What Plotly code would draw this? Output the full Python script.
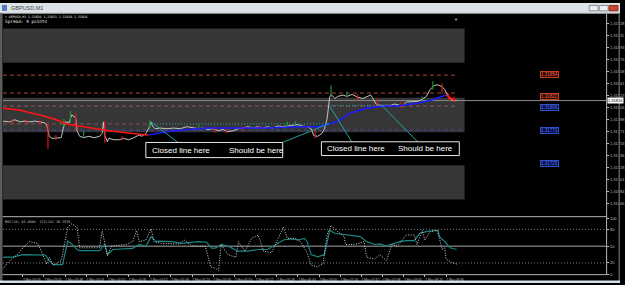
import plotly.graph_objects as go

W, H = 625, 285

# ---------------- data (time = bar minutes, values = prices) ----------------
price_min = [0, 5, 9, 13, 16, 20, 24, 28, 31, 33, 35, 37, 41, 44, 46, 47, 50, 52, 55, 56,
             58, 61, 65, 69, 73, 75, 76, 77, 79, 80, 84, 88, 91, 95, 99, 103, 105, 108, 110, 112,
             113, 115, 119, 124, 129, 134, 139, 144, 148, 151, 155, 159, 163, 166, 170, 174, 178, 181, 185, 189,
             193, 196, 200, 204, 208, 211, 215, 219, 223, 226, 230, 233, 235, 238, 241, 243, 245, 247, 248, 251,
             253, 257, 260, 264, 268, 272, 275, 278, 280, 282, 285, 289, 293, 296, 300, 302, 305, 308, 311, 314,
             317, 320, 323, 326, 329, 332, 334, 337, 340, 343]
price_close = [1.31786, 1.31785, 1.31788, 1.31785, 1.31786, 1.31785, 1.31786, 1.31785, 1.31784, 1.31781,
               1.31764, 1.31761, 1.31762, 1.31762, 1.31779, 1.31785, 1.31784, 1.31795, 1.31791, 1.31772,
               1.31764, 1.31762, 1.31764, 1.31762, 1.31764, 1.31768, 1.31785, 1.31765, 1.31756, 1.31761,
               1.31759, 1.31759, 1.31761, 1.31759, 1.31762, 1.31766, 1.31764, 1.31768, 1.31775, 1.31785,
               1.31779, 1.31775, 1.31776, 1.31775, 1.31776, 1.31775, 1.31778, 1.31776, 1.31775, 1.31776,
               1.31774, 1.31775, 1.31772, 1.31774, 1.31771, 1.31772, 1.31775, 1.31776, 1.31778, 1.31776,
               1.31778, 1.31776, 1.31778, 1.31776, 1.31779, 1.31778, 1.31779, 1.31781, 1.31781, 1.31779,
               1.31778, 1.31775, 1.31765, 1.31764, 1.31768, 1.31774, 1.31789, 1.31821, 1.31825, 1.31819,
               1.31822, 1.31824, 1.31822, 1.31825, 1.31821, 1.31819, 1.31822, 1.31824, 1.31818, 1.31811,
               1.31809, 1.31809, 1.31809, 1.31811, 1.31809, 1.31808, 1.31814, 1.31814, 1.31814, 1.31815,
               1.31818, 1.31822, 1.31832, 1.31838, 1.31839, 1.31836, 1.31832, 1.31821, 1.31816, 1.31816]

ma_fall_min = [0, 13, 30, 39, 48, 58, 73, 80, 98, 110]
ma_fall = [1.31805, 1.31802, 1.31794, 1.31789, 1.31782, 1.31779, 1.31775, 1.31772, 1.31768, 1.31766]
ma_rise_min = [110, 125, 140, 155, 178, 200, 223, 238, 245, 253, 263, 275, 288, 298, 313, 323, 335]
ma_rise = [1.31766, 1.31771, 1.31774, 1.31776, 1.31776, 1.31776, 1.31778, 1.31778, 1.31781, 1.31786,
           1.31798, 1.31805, 1.31808, 1.31808, 1.31812, 1.31816, 1.31824]
ma_tail_min = [335, 339, 342]
ma_tail = [1.31824, 1.31819, 1.31817]

red_wick_min = [7, 18, 28, 34, 40, 55, 77, 90, 160, 169, 181, 194, 236, 268, 283, 301, 332, 337, 341]
red_wick_lo = [1.31782, 1.31782, 1.31781, 1.31746, 1.31759, 1.31772, 1.31755, 1.31758, 1.31769, 1.31768,
               1.31772, 1.31774, 1.31761, 1.31816, 1.31808, 1.31805, 1.31826, 1.31815, 1.31814]
red_wick_hi = [1.31789, 1.31788, 1.31788, 1.31784, 1.31766, 1.31798, 1.31786, 1.31764, 1.31778, 1.31776,
               1.31779, 1.31779, 1.31775, 1.31825, 1.31819, 1.31814, 1.31841, 1.31826, 1.31822]
green_wick_min = [46, 51, 61, 111, 148, 215, 221, 248, 260, 317, 325]
green_wick_lo = [1.31778, 1.31784, 1.31762, 1.31775, 1.31774, 1.31778, 1.31778, 1.31821, 1.31821, 1.31815, 1.31832]
green_wick_hi = [1.31789, 1.31801, 1.31772, 1.31788, 1.31781, 1.31785, 1.31786, 1.31838, 1.31829, 1.31822, 1.31844]

rsi_min = [0, 8, 15, 23, 32, 35, 38, 45, 48, 49, 52, 56, 58, 73, 77, 79, 83, 98, 103, 108,
           112, 116, 118, 128, 135, 148, 154, 158, 161, 165, 170, 178, 185, 193, 200, 208, 212, 218, 223, 228,
           230, 233, 238, 243, 247, 251, 260, 266, 270, 275, 281, 285, 290, 296, 300, 305, 311, 315, 320, 326,
           329, 330, 334, 338, 343]
rsi_val = [30, 31, 35, 35, 34, 24, 17, 17, 53, 59, 54, 44, 42, 42, 53, 35, 44, 46, 53, 50,
           67, 58, 59, 58, 55, 58, 57, 46, 47, 53, 50, 41, 41, 44, 44, 55, 61, 63, 61, 64,
           58, 35, 31, 35, 78, 73, 70, 67, 67, 58, 53, 54, 50, 55, 58, 60, 60, 73, 76, 78,
           78, 67, 58, 47, 44]
stoch_min = [0, 5, 11, 15, 20, 26, 29, 33, 35, 38, 44, 47, 49, 52, 56, 58, 73, 75, 77, 79,
             82, 93, 98, 101, 103, 108, 112, 114, 120, 133, 137, 143, 153, 157, 161, 163, 165, 170, 176, 178,
             183, 188, 193, 197, 203, 208, 212, 215, 221, 225, 230, 233, 238, 242, 245, 248, 253, 258, 259, 266,
             273, 275, 281, 285, 290, 294, 298, 305, 311, 313, 317, 319, 323, 328, 330, 332, 334, 335, 339, 343]
stoch_val = [10, 24, 35, 47, 58, 55, 41, 18, 30, 16, 24, 64, 84, 90, 84, 47, 47, 77, 53, 33,
             50, 53, 58, 78, 58, 61, 81, 58, 55, 54, 61, 50, 50, 13, 10, 7, 53, 35, 30, 58,
             41, 64, 70, 41, 38, 64, 84, 64, 64, 58, 38, 16, 13, 19, 70, 87, 76, 67, 53, 53,
             58, 30, 27, 35, 24, 53, 50, 70, 70, 53, 78, 61, 76, 78, 64, 44, 47, 27, 21, 18]

zone_top = [1.31921, 1.31820, 1.31722]
zone_bottom = [1.31871, 1.31770, 1.31672]
zone_end_min = 349

level_prices = [1.31853, 1.31827, 1.31808, 1.31782, 1.31773]
level_end_min = [343, 343, 343, 110, 349]
level_colors = ["#a4463a", "#a4463a", "#8e5868", "#7c5060", "#46469a"]

tag_prices = [1.31854, 1.31822, 1.31806, 1.31773, 1.31725]
tag_kind = ["sell", "sell", "buy", "buy", "buy"]
bid_price = 1.31816

price_ticks = [1.31928, 1.31911, 1.31893, 1.31876, 1.31858, 1.31841, 1.31823, 1.31806,
               1.31788, 1.31771, 1.31753, 1.31736, 1.31718, 1.31701, 1.31684, 1.31666]
time_tick_min = [-1, 15, 31, 47, 63, 79, 95, 111, 127, 143, 159, 175, 191, 207, 223, 239,
                 255, 271, 287, 303, 319, 335]
time_tick_labels = ["7 Mar 2018", "7 Mar 03:16", "7 Mar 03:32", "7 Mar 03:48", "7 Mar 04:04",
                    "7 Mar 04:20", "7 Mar 04:36", "7 Mar 04:52", "7 Mar 05:08", "7 Mar 05:24",
                    "7 Mar 05:40", "7 Mar 05:56", "7 Mar 06:12", "7 Mar 06:28", "7 Mar 06:44",
                    "7 Mar 07:00", "7 Mar 07:16", "7 Mar 07:32", "7 Mar 07:48", "7 Mar 08:04",
                    "7 Mar 08:20", "7 Mar 08:36"]
osc_ticks = [100, 80, 50, 20, 0]
osc_levels = [80, 50, 20]

# trendline / callout objects drawn on the chart (time, price)
dotted_marks = [((112, 1.31782), (247, 1.31782)), ((248, 1.31809), (287, 1.31809))]
callouts = [((112, 1.31785), (133, 1.31754)), ((246, 1.31782), (210, 1.31754)),
            ((247, 1.31808), (264, 1.31755)), ((287, 1.31808), (314, 1.31755))]
note_boxes = [(108, 211.5, 1.31733, 1.31755), (240.75, 345, 1.31736, 1.31756)]
note_texts = [(111.5, 1.31744, "Closed line here"), (169.5, 1.31744, "Should be here"),
              (243.5, 1.31746, "Closed line here"), (297, 1.31746, "Should be here")]

# ---------------- layout helpers ----------------
X_RANGE = [0, 456]
Y_RANGE = [1.316477, 1.319423]


def px(x):
    return x / W


def py(y):
    return 1 - y / H


def segs(xs, lo, hi):
    ox, oy = [], []
    for a, b, c in zip(xs, lo, hi):
        ox += [a, a, None]
        oy += [b, c, None]
    return ox, oy


fig = go.Figure()

fig.add_trace(go.Scatter(x=price_min, y=price_close, mode="lines",
                         line=dict(color="#c4c4c4", width=1), xaxis="x", yaxis="y"))
rx, ry = segs(red_wick_min, red_wick_lo, red_wick_hi)
fig.add_trace(go.Scatter(x=rx, y=ry, mode="lines", line=dict(color="#e01818", width=1.2),
                         xaxis="x", yaxis="y"))
gx, gy = segs(green_wick_min, green_wick_lo, green_wick_hi)
fig.add_trace(go.Scatter(x=gx, y=gy, mode="lines", line=dict(color="#129a2e", width=1.2),
                         xaxis="x", yaxis="y"))
fig.add_trace(go.Scatter(x=ma_fall_min, y=ma_fall, mode="lines",
                         line=dict(color="#ff1414", width=1.6), xaxis="x", yaxis="y"))
fig.add_trace(go.Scatter(x=ma_rise_min, y=ma_rise, mode="lines",
                         line=dict(color="#1a1aff", width=1.6), xaxis="x", yaxis="y"))
fig.add_trace(go.Scatter(x=ma_tail_min, y=ma_tail, mode="lines",
                         line=dict(color="#ff1414", width=1.6), xaxis="x", yaxis="y"))

fig.add_trace(go.Scatter(x=rsi_min, y=rsi_val, mode="lines",
                         line=dict(color="#1b8585", width=1.2), xaxis="x2", yaxis="y2"))
fig.add_trace(go.Scatter(x=stoch_min, y=stoch_val, mode="lines",
                         line=dict(color="#d0d0d0", width=1, dash="1px,1.5px"),
                         xaxis="x2", yaxis="y2"))

shapes = []
for t, b in zip(zone_top, zone_bottom):
    shapes.append(dict(type="rect", xref="x", yref="y", x0=X_RANGE[0], x1=zone_end_min,
                       y0=b, y1=t, fillcolor="#363636", line_width=0, layer="below"))
for p, e, c in zip(level_prices, level_end_min, level_colors):
    shapes.append(dict(type="line", xref="x", yref="y", x0=X_RANGE[0], x1=e, y0=p, y1=p,
                       line=dict(color=c, width=1, dash="4px,3px"), layer="below"))
shapes.append(dict(type="line", xref="x", yref="y", x0=X_RANGE[0], x1=X_RANGE[1],
                   y0=bid_price, y1=bid_price, line=dict(color="#8a8a8a", width=1), layer="below"))
for lv in osc_levels:
    shapes.append(dict(type="line", xref="x2", yref="y2", x0=X_RANGE[0], x1=X_RANGE[1],
                       y0=lv, y1=lv,
                       line=dict(color="#a8a8a8" if lv == 50 else "#808080", width=1,
                                 dash="solid" if lv == 50 else "1px,2px"),
                       layer="below"))
for (a, b) in dotted_marks:
    shapes.append(dict(type="line", xref="x", yref="y", x0=a[0], y0=a[1], x1=b[0], y1=b[1],
                       line=dict(color="#22a8a8", width=1, dash="1px,2px")))
for (a, b) in callouts:
    shapes.append(dict(type="line", xref="x", yref="y", x0=a[0], y0=a[1], x1=b[0], y1=b[1],
                       line=dict(color="#22a0a0", width=1)))
for (x0, x1, y0, y1) in note_boxes:
    shapes.append(dict(type="rect", xref="x", yref="y", x0=x0, x1=x1, y0=y0, y1=y1,
                       fillcolor="#000000", line=dict(color="#e8e8e8", width=1)))


def prect(x0, y0, x1, y1, fill, line=None):
    d = dict(type="rect", xref="paper", yref="paper", x0=px(x0), x1=px(x1), y0=py(y1), y1=py(y0),
             fillcolor=fill, layer="above")
    d["line"] = dict(color=line, width=1) if line else dict(width=0)
    return d


def pline(x0, y0, x1, y1, color, width=1):
    return dict(type="line", xref="paper", yref="paper", x0=px(x0), x1=px(x1), y0=py(y0), y1=py(y1),
                line=dict(color=color, width=width), layer="above")


shapes += [
    prect(0, 0, 625, 10.5, "#dde2e8"),
    pline(0, 10.5, 625, 10.5, "#9aa0a6"),
    prect(2, 2, 7, 8, "#4a7cc0"),
    prect(594, 2.5, 603, 8, "#eceff2", "#8a8f96"),
    prect(604, 2.5, 613, 8, "#eceff2", "#8a8f96"),
    prect(614, 2.5, 623, 8, "#c9452f", "#8a3020"),
    prect(0, 10.5, 2.5, 283, "#5c5c5c"),
    prect(623.5, 10.5, 625, 283, "#5c5c5c"),
    prect(0, 282.5, 625, 285, "#d3dfe6"),
    pline(611.5, 11, 611.5, 276.5, "#b4b4b4"),
    pline(2.5, 217.5, 611.5, 217.5, "#b4b4b4"),
    pline(2.5, 276.5, 611.5, 276.5, "#b4b4b4"),
]

annotations = []
mono = "DejaVu Sans Mono"
annotations.append(dict(xref="paper", yref="paper", x=px(9.5), y=py(5.3), xanchor="left",
                        yanchor="middle", showarrow=False, text="GBPUSD,M1",
                        font=dict(family="Liberation Sans", size=5.5, color="#404040")))
annotations.append(dict(xref="paper", yref="paper", x=px(3), y=py(14), xanchor="left",
                        yanchor="middle", showarrow=False,
                        text="▾ GBPUSD,M1 1.31826 1.31831 1.31818 1.31816",
                        font=dict(family=mono, size=3.2, color="#e0e0e0")))
annotations.append(dict(xref="paper", yref="paper", x=px(3), y=py(19), xanchor="left",
                        yanchor="middle", showarrow=False, text="Spread: 9 points",
                        font=dict(family=mono, size=4.4, color="#e8e8e8")))
annotations.append(dict(xref="paper", yref="paper", x=px(3), y=py(222.5), xanchor="left",
                        yanchor="middle", showarrow=False,
                        text="RSI(14) 43.8888  CCI(14) 16.7535",
                        font=dict(family=mono, size=3.4, color="#c8c8c8")))
annotations.append(dict(xref="paper", yref="paper", x=px(464), y=py(12.5), showarrow=False,
                        text="▼", font=dict(size=4, color="#c0c0c0")))
for (x, y, t) in note_texts:
    annotations.append(dict(xref="x", yref="y", x=x, y=y, xanchor="left", yanchor="middle",
                            showarrow=False, text=t,
                            font=dict(family="Liberation Sans, Arial", size=8, color="#ffffff")))
for p, k in zip(tag_prices, tag_kind):
    red = k == "sell"
    annotations.append(dict(xref="paper", yref="y", x=px(564), y=p, xanchor="right",
                            yanchor="middle", showarrow=False, text=f"{p:.5f}",
                            font=dict(family="Liberation Sans", size=4.5,
                                      color="#f06040" if red else "#5070f0"),
                            bgcolor="#2a0a06" if red else "#0a1046",
                            bordercolor="#c8401e" if red else "#3050c8",
                            borderwidth=1, borderpad=0))
annotations.append(dict(xref="paper", yref="y", x=px(612), y=bid_price, xanchor="left",
                        yanchor="middle", showarrow=False, text=f"{bid_price:.5f}",
                        font=dict(family="Liberation Sans", size=4, color="#000000"),
                        bgcolor="#ffffff", borderpad=0))

axis_font = dict(family="Liberation Sans", size=4, color="#bdbdbd")
time_font = dict(family="Liberation Sans", size=3.3, color="#bdbdbd")
fig.update_layout(
    width=W, height=H, autosize=False,
    margin=dict(l=0, r=0, t=0, b=0, pad=0),
    paper_bgcolor="#000000", plot_bgcolor="#000000",
    showlegend=False,
    shapes=shapes, annotations=annotations,
    xaxis=dict(domain=[px(3), px(611)], range=X_RANGE, anchor="y", showticklabels=False,
               showgrid=False, zeroline=False, showline=False, ticks=""),
    yaxis=dict(domain=[py(217), py(11)], range=Y_RANGE, side="right", anchor="x",
               tickvals=price_ticks, tickformat=".5f", tickfont=axis_font,
               ticks="outside", ticklen=2, tickcolor="#bdbdbd",
               showgrid=False, zeroline=False, showline=False),
    xaxis2=dict(domain=[px(3), px(611)], range=X_RANGE, anchor="y2", matches="x",
                tickvals=time_tick_min, ticktext=time_tick_labels, tickfont=time_font,
                tickangle=0, ticks="outside", ticklen=2, tickcolor="#bdbdbd",
                ticklabelshift=9, ticklabelstandoff=0,
                showgrid=False, zeroline=False, showline=False),
    yaxis2=dict(domain=[py(276), py(219)], range=[0, 100], side="right", anchor="x2",
                tickvals=osc_ticks, tickfont=axis_font, ticks="outside", ticklen=2,
                tickcolor="#bdbdbd", showgrid=False, zeroline=False, showline=False),
)

fig.write_html("out.html", config={"displayModeBar": False})
